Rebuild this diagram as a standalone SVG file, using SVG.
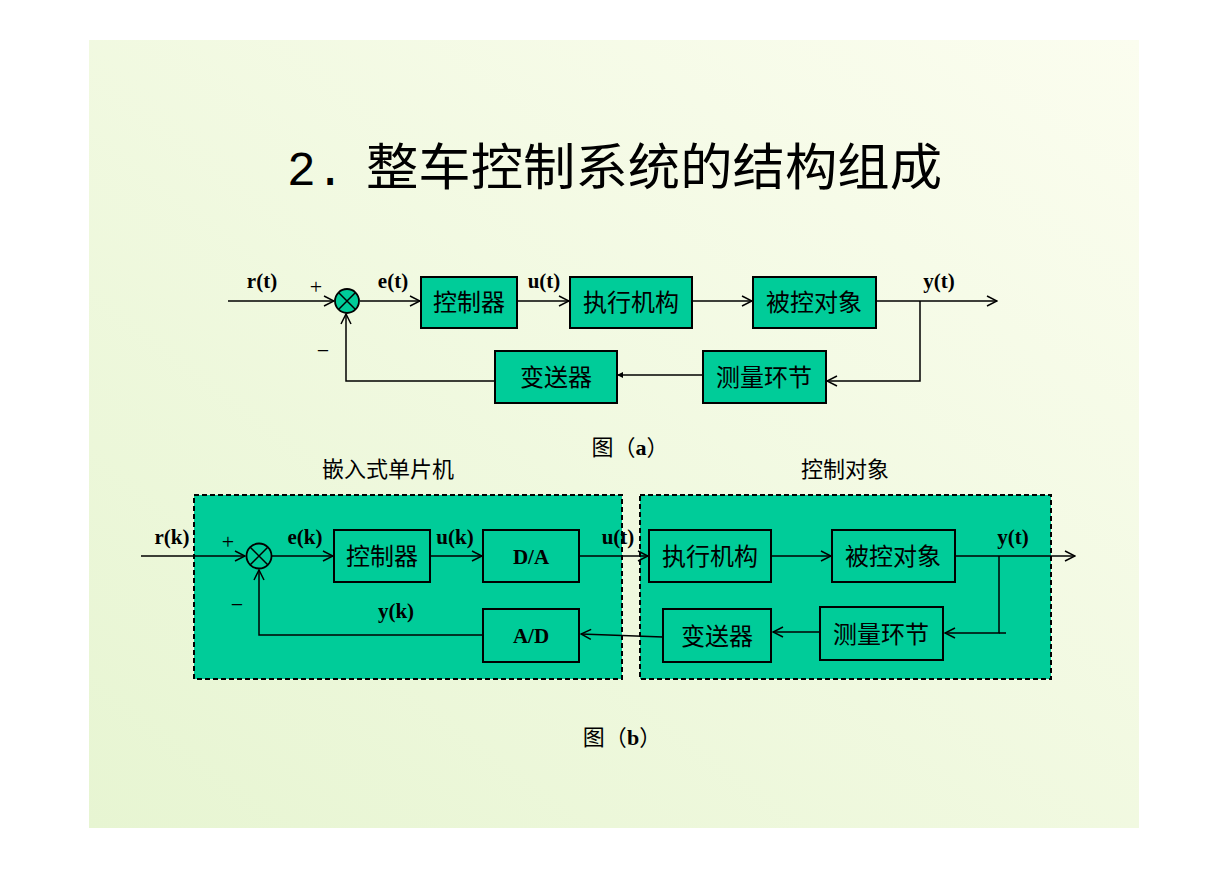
<svg xmlns="http://www.w3.org/2000/svg" width="1228" height="869" viewBox="0 0 1228 869">
<defs>
<linearGradient id="bg" x1="0" y1="1" x2="1" y2="0">
<stop offset="0" stop-color="#e7f5d2"/>
<stop offset="1" stop-color="#fbfdef"/>
</linearGradient>
<marker id="arr" viewBox="0 0 12 12" refX="11" refY="6" markerWidth="12" markerHeight="12" markerUnits="userSpaceOnUse" orient="auto">
<path d="M1,1 L11,6 L1,11" fill="none" stroke="#000" stroke-width="1.5"/>
</marker>
<marker id="dot" viewBox="0 0 6 6" refX="5" refY="3" markerWidth="6" markerHeight="6" markerUnits="userSpaceOnUse" orient="auto">
<path d="M0,0 L6,3 L0,6 Z" fill="#000"/>
</marker>
</defs>
<style>
.box{fill:#00cc99;stroke:#000;stroke-width:2}
.grp{fill:#00cc99;stroke:#000;stroke-width:2;stroke-dasharray:5 3}
.cn{font-family:"Noto Sans CJK SC","Noto Sans",sans-serif;font-size:24px;fill:#000;text-anchor:middle}
.lb{font-family:"Liberation Serif",serif;font-weight:bold;font-size:21px;fill:#000;text-anchor:middle}
.sg{font-family:"Liberation Serif",serif;font-size:22px;fill:#000;text-anchor:middle}
.ln{fill:none;stroke:#000;stroke-width:1.5}
.cap{font-family:"Noto Sans CJK SC","Noto Sans",sans-serif;font-size:22px;fill:#000;text-anchor:middle}
</style>
<rect x="0" y="0" width="1228" height="869" fill="#fff"/>
<rect x="89" y="40" width="1050" height="788" fill="url(#bg)"/>
<g id="title">
<text x="287" y="185" font-family="Liberation Mono,monospace" font-size="48" fill="#000">2.</text>
<text x="366" y="185" font-family="Noto Sans CJK SC,sans-serif" font-size="50" fill="#000" textLength="576" lengthAdjust="spacingAndGlyphs">整车控制系统的结构组成</text>
</g>

<!-- Diagram (a) -->
<g id="a-labels">
<text class="lb" x="262" y="288">r(t)</text>
<text class="sg" x="316" y="294">+</text>
<text class="sg" x="323" y="358">−</text>
<text class="lb" x="393" y="288">e(t)</text>
<text class="lb" x="544" y="288">u(t)</text>
<text class="lb" x="939" y="288">y(t)</text>
</g>
<g id="a-connectors">
<line class="ln" x1="228" y1="301" x2="334" y2="301" marker-end="url(#arr)"/>
<line class="ln" x1="360" y1="301" x2="420" y2="301" marker-end="url(#arr)"/>
<line class="ln" x1="517" y1="301" x2="569" y2="301" marker-end="url(#arr)"/>
<line class="ln" x1="692" y1="301" x2="752" y2="301" marker-end="url(#arr)"/>
<line class="ln" x1="876" y1="301" x2="997" y2="301" marker-end="url(#arr)"/>
<polyline class="ln" points="920,301 920,381 827,381" marker-end="url(#arr)"/>
<line class="ln" x1="703" y1="375" x2="618" y2="375" marker-end="url(#dot)"/>
<polyline class="ln" points="495,381 346,381 346,314" marker-end="url(#arr)"/>
</g>
<g id="a-sum">
<circle cx="347" cy="301" r="12" fill="#00cc99" stroke="#000" stroke-width="1.8"/>
<path d="M338.5,292.5 L355.5,309.5 M355.5,292.5 L338.5,309.5" stroke="#000" stroke-width="1.5"/>
</g>
<g id="a-ctrl"><rect class="box" x="421" y="277" width="96" height="51"/><text class="cn" x="469" y="311">控制器</text></g>
<g id="a-act"><rect class="box" x="570" y="277" width="122" height="51"/><text class="cn" x="631" y="311">执行机构</text></g>
<g id="a-plant"><rect class="box" x="753" y="277" width="123" height="51"/><text class="cn" x="814" y="311">被控对象</text></g>
<g id="a-meas"><rect class="box" x="703" y="351" width="123" height="52"/><text class="cn" x="764" y="386">测量环节</text></g>
<g id="a-trans"><rect class="box" x="495" y="351" width="122" height="52"/><text class="cn" x="556" y="386">变送器</text></g>
<text class="cap" x="630" y="455">图（<tspan font-family="Liberation Serif,serif" font-weight="bold">a</tspan>）</text>

<!-- Diagram (b) -->
<g id="b-mcu"><rect class="grp" x="194" y="495" width="428" height="184"/></g>
<g id="b-obj"><rect class="grp" x="640" y="495" width="411" height="184"/></g>
<text class="cap" x="388" y="477">嵌入式单片机</text>
<text class="cap" x="845" y="477">控制对象</text>
<g id="b-connectors">
<line class="ln" x1="141" y1="556" x2="245" y2="556" marker-end="url(#arr)"/>
<line class="ln" x1="272" y1="556" x2="333" y2="556" marker-end="url(#arr)"/>
<line class="ln" x1="430" y1="556" x2="482" y2="556" marker-end="url(#arr)"/>
<line class="ln" x1="579" y1="556" x2="648" y2="556" marker-end="url(#arr)"/>
<line class="ln" x1="772" y1="556" x2="831" y2="556" marker-end="url(#arr)"/>
<line class="ln" x1="955" y1="556" x2="1075" y2="556" marker-end="url(#arr)"/>
<polyline class="ln" points="999,556 999,633 945,633" marker-end="url(#arr)"/>
<polyline class="ln" points="1006,633 999,633"/>
<line class="ln" x1="820" y1="632" x2="773" y2="632" marker-end="url(#arr)"/>
<line class="ln" x1="663" y1="637" x2="581" y2="634" marker-end="url(#arr)"/>
<polyline class="ln" points="483,635 259,635 259,570" marker-end="url(#arr)"/>
</g>
<g id="b-sum">
<circle cx="259" cy="556" r="12.5" fill="#00cc99" stroke="#000" stroke-width="1.8"/>
<path d="M250,547 L268,565 M268,547 L250,565" stroke="#000" stroke-width="1.5"/>
</g>
<g id="b-labels">
<text class="lb" x="172" y="544">r(k)</text>
<text class="sg" x="228" y="549">+</text>
<text class="sg" x="237" y="612">−</text>
<text class="lb" x="305" y="544">e(k)</text>
<text class="lb" x="455" y="544">u(k)</text>
<text class="lb" x="618" y="544">u(t)</text>
<text class="lb" x="1013" y="544">y(t)</text>
<text class="lb" x="396" y="618">y(k)</text>
</g>
<g id="b-ctrl"><rect class="box" x="334" y="530" width="96" height="52"/><text class="cn" x="382" y="565">控制器</text></g>
<g id="b-da"><rect class="box" x="483" y="530" width="96" height="52"/><text class="lb" x="531" y="564" font-size="22">D/A</text></g>
<g id="b-act"><rect class="box" x="649" y="530" width="122" height="52"/><text class="cn" x="710" y="565">执行机构</text></g>
<g id="b-plant"><rect class="box" x="832" y="530" width="123" height="52"/><text class="cn" x="893" y="565">被控对象</text></g>
<g id="b-meas"><rect class="box" x="820" y="607" width="123" height="53"/><text class="cn" x="881" y="643">测量环节</text></g>
<g id="b-trans"><rect class="box" x="663" y="609" width="108" height="53"/><text class="cn" x="717" y="645">变送器</text></g>
<g id="b-ad"><rect class="box" x="483" y="609" width="96" height="53"/><text class="lb" x="531" y="643" font-size="22">A/D</text></g>
<text class="cap" x="622" y="745">图（<tspan font-family="Liberation Serif,serif" font-weight="bold">b</tspan>）</text>
</svg>
